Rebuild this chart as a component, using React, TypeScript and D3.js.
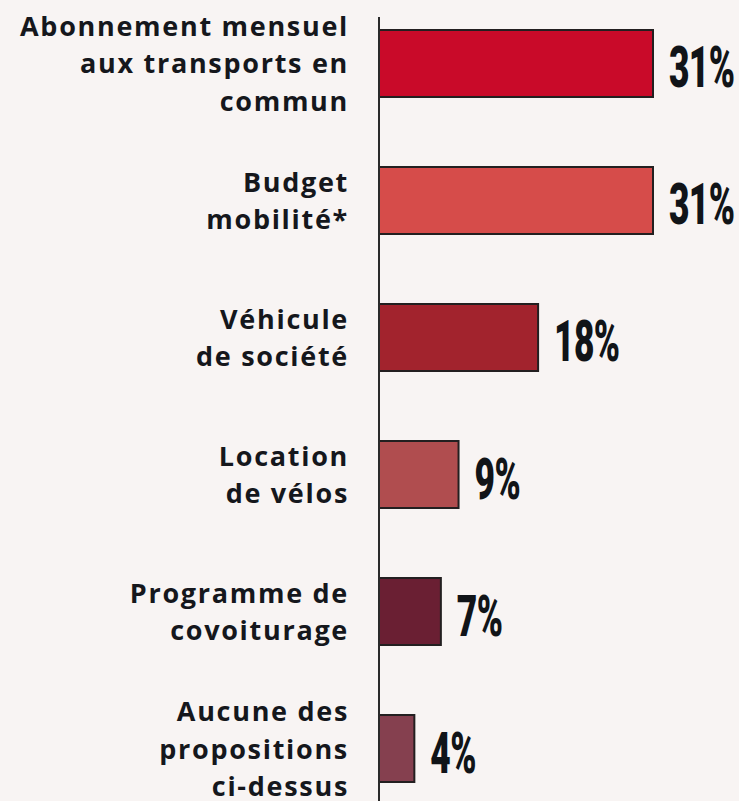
import React from "react";
import * as d3 from "d3";

const categories: string[][] = [
  ["Abonnement mensuel", "aux transports en", "commun"],
  ["Budget", "mobilité*"],
  ["Véhicule", "de société"],
  ["Location", "de vélos"],
  ["Programme de", "covoiturage"],
  ["Aucune des", "propositions", "ci-dessus"],
];
const values: number[] = [31, 31, 18, 9, 7, 4];
const valueLabels: string[] = ["31%", "31%", "18%", "9%", "7%", "4%"];
const barColors: string[] = ["#C90A29", "#D64C4A", "#A2232D", "#B04D4F", "#6A1F33", "#85404F"];

const W = 739;
const H = 801;
const AXIS_X = 379;

export default function App() {
  const y = d3
    .scaleBand<number>()
    .domain(values.map((_, i) => i))
    .range([30, 782])
    .paddingInner(0.511)
    .paddingOuter(0);
  const x = d3.scaleLinear().domain([0, 31]).range([AXIS_X, 653]);
  const lineH = 37.5;
  const labelFont = "'Open Sans', sans-serif";
  return (
    <svg
      width={W}
      height={H}
      style={{ position: "absolute", left: 0, top: 0, background: "#F8F4F3" }}
    >
      <rect x={0} y={0} width={W} height={H} fill="#F8F4F3" />
      {values.map((v, i) => {
        const by = y(i)!;
        const bh = y.bandwidth();
        const cy = by + bh / 2;
        const lines = categories[i];
        const first = cy - ((lines.length - 1) * lineH) / 2 + 10;
        return (
          <g key={i}>
            <rect
              x={x(0)}
              y={by}
              width={x(v) - x(0)}
              height={bh}
              fill={barColors[i]}
              stroke="#231F20"
              strokeWidth={2}
            />
            {lines.map((t, j) => (
              <text
                key={j}
                x={349}
                y={first + j * lineH}
                textAnchor="end"
                fontFamily={labelFont}
                fontWeight={700}
                fontSize={27}
                letterSpacing={1.7}
                fill="#15171C"
              >
                {t}
              </text>
            ))}
            <g transform={`translate(${x(v) + 16},${cy + 24}) scale(0.62,1)`}>
              <text
                x={0}
                y={0}
                fontFamily="Roboto, sans-serif"
                fontWeight={900}
                fontSize={57}
                fill="#111418"
                letterSpacing={-1}
              >
                {valueLabels[i]}
              </text>
            </g>
          </g>
        );
      })}
      <line x1={AXIS_X} x2={AXIS_X} y1={17} y2={H} stroke="#2A2A2A" strokeWidth={2} />
    </svg>
  );
}
